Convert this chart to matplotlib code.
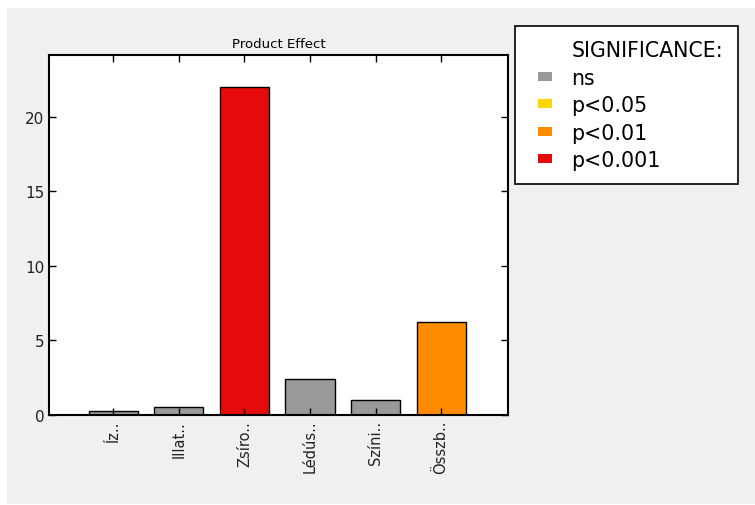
import matplotlib.pyplot as plt
from matplotlib.patches import Patch, Rectangle
from matplotlib.legend_handler import HandlerPatch

# Adatok
labels = ['Íz..', 'Illat..', 'Zsíro..', 'Lédús..', 'Színi..', 'Összb..']
values = [0.3, 0.54, 22.0, 2.4, 1.0, 6.25]
signif = ['ns', 'ns', 'p<0.001', 'ns', 'ns', 'p<0.01']

sig_levels = ['ns', 'p<0.05', 'p<0.01', 'p<0.001']
sig_colors = ['#999999', '#ffd700', '#ff8c00', '#e50b0b']
color_map = dict(zip(sig_levels, sig_colors))

fig = plt.figure(figsize=(7.55, 5.06), dpi=100)
fig.patch.set_facecolor('white')
# szurke hatter (a kepen kis feher szegely van)
fig.patches.append(Rectangle((7 / 755, 1 / 506), 1, 1 - 10 / 506, transform=fig.transFigure,
                             facecolor='#f0f0f0', edgecolor='none', zorder=-10))

ax = fig.add_axes([49 / 755, 90 / 506, 459 / 755, 360 / 506])
x = list(range(len(labels)))
ax.bar(x, values, width=0.75, color=[color_map[s] for s in signif],
       edgecolor='black', linewidth=1, align='center')

ax.set_xlim(-0.98, 6.02)
ax.set_ylim(0, 24.15)
ax.set_yticks([0, 5, 10, 15, 20])
ax.set_xticks(x)
ax.set_xticklabels(labels, rotation=90, fontsize=10.5, color='#222222')
ax.tick_params(axis='y', labelsize=11, colors='#222222')
ax.tick_params(direction='in', top=True, right=True, length=5, width=1, color='black')
for s in ax.spines.values():
    s.set_linewidth(1.5)
ax.set_title('Product Effect', fontsize=9.5, pad=6)


# kis teglalap a jelmagyarazatban, jobbra tolva
def small_box(legend, orig_handle, xdescent, ydescent, width, height, fontsize):
    return Rectangle((-xdescent + 6.5, -ydescent + height * 0.1), 9.5, height * 0.8)


handles = [Patch(facecolor='none', edgecolor='none')]
handles += [Patch(facecolor=c, edgecolor='none') for c in sig_colors]
leg_labels = ['SIGNIFICANCE:'] + sig_levels
leg = fig.legend(handles, leg_labels, loc='upper left',
                 bbox_to_anchor=(515 / 755, 1 - 27 / 506), borderaxespad=0,
                 fontsize=14.8, frameon=True, fancybox=False, edgecolor='black',
                 framealpha=1, handlelength=1.1, handleheight=0.45,
                 handletextpad=0.95, labelspacing=0.36, borderpad=0.7,
                 handler_map={Patch: HandlerPatch(patch_func=small_box)})
leg.get_frame().set_linewidth(1.2)

fig.savefig('out.png', dpi=100, facecolor=fig.get_facecolor())
